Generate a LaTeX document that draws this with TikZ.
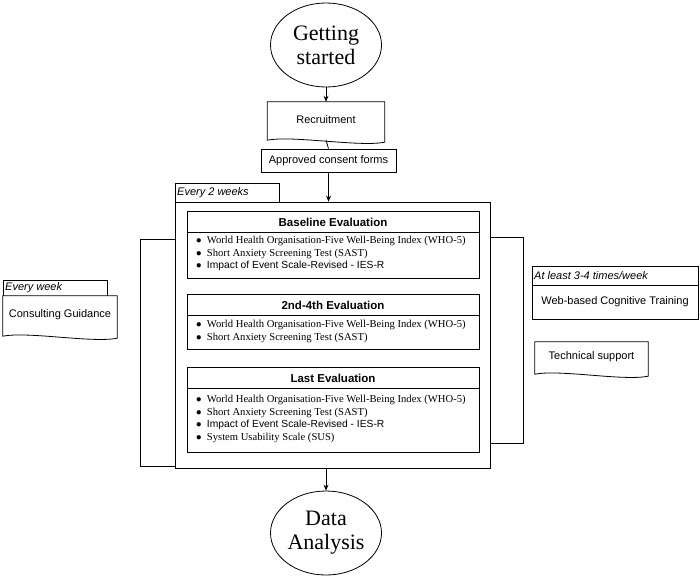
\documentclass[tikz,border=0pt]{standalone}
\usepackage{fontspec}
\setmainfont{Liberation Serif}
\newfontfamily\sans{Liberation Sans}
\usetikzlibrary{shapes.geometric,arrows.meta}
\begin{document}
\begin{tikzpicture}[x=1pt,y=-1pt,
  ell/.style={ellipse,draw,thick,minimum width=111pt,minimum height=84pt,align=center,font=\fontsize{22}{24}\selectfont,inner sep=0pt},
  box/.style={draw,thick,font=\sans\fontsize{11}{13}\selectfont},
  plain/.style={font=\sans\fontsize{11}{13}\selectfont,inner sep=0pt},
  hdr/.style={font=\sans\bfseries\fontsize{11.5}{13}\selectfont},
  tab/.style={font=\sans\itshape\fontsize{11}{13}\selectfont,anchor=west,inner sep=2pt},
  lst/.style={font=\fontsize{10.6}{12.5}\selectfont,align=left,anchor=north west,inner sep=0pt},
  arr/.style={-{Stealth[length=6pt,width=5pt]},thick},
  ln/.style={thick}]
\useasboundingbox (0,0) rectangle (700,576);
\def\docpath#1{\draw[thick] (#1.north west) -- (#1.north east) -- ([yshift=-4pt]#1.south east)
  .. controls ([xshift=-25pt,yshift=-9pt]#1.south east) and ([xshift=25pt,yshift=3pt]#1.south west) .. ([yshift=-2pt]#1.south west) -- cycle;}

\node[ell] (gs) at (326,45) {Getting\\started};
\node[plain,minimum width=117pt,minimum height=36pt] (rec) at (326,120) {Recruitment};
\docpath{rec}
\node[box,minimum width=135pt,minimum height=23pt,inner sep=0pt] (app) at (328.5,160.5) {Approved consent forms};

\node[draw,thick,minimum width=315pt,minimum height=266pt,inner sep=0pt] (outer) at (332.5,335) {};
\draw[thick] (175,202) -- (175,183) -- (279,183) -- (279,202);
\node[tab] (t2) at (175,192.5) {Every 2 weeks};

\node[draw,thick,minimum width=292pt,minimum height=67pt,inner sep=0pt] (b1) at (333,244.5) {};
\draw[thick] (187,232) -- (479,232);
\node[hdr] (h1) at (333,222) {Baseline Evaluation};
\node[lst] (l1) at (196,236) {$\bullet$\enspace World Health Organisation-Five Well-Being Index (WHO-5)\\
$\bullet$\enspace Short Anxiety Screening Test (SAST)\\
$\bullet$\enspace {\sans\fontsize{10.3}{12.5}\selectfont Impact of Event Scale-Revised - IES-R}};

\node[draw,thick,minimum width=292pt,minimum height=55pt,inner sep=0pt] (b2) at (333,321.5) {};
\draw[thick] (187,315) -- (479,315);
\node[hdr] (h2) at (333,305) {2nd-4th Evaluation};
\node[lst] (l2) at (196,320) {$\bullet$\enspace World Health Organisation-Five Well-Being Index (WHO-5)\\
$\bullet$\enspace Short Anxiety Screening Test (SAST)};

\node[draw,thick,minimum width=292pt,minimum height=85pt,inner sep=0pt] (b3) at (333,409.5) {};
\draw[thick] (187,388) -- (479,388);
\node[hdr] (h3) at (333,378) {Last Evaluation};
\node[lst] (l3) at (196,395) {$\bullet$\enspace World Health Organisation-Five Well-Being Index (WHO-5)\\
$\bullet$\enspace Short Anxiety Screening Test (SAST)\\
$\bullet$\enspace {\sans\fontsize{10.3}{12.5}\selectfont Impact of Event Scale-Revised - IES-R}\\
$\bullet$\enspace System Usability Scale (SUS)};

\draw[thick] (3,296) -- (3,280) -- (107,280) -- (107,296);
\node[tab] (tw) at (3,288) {Every week};
\node[plain,minimum width=114pt,minimum height=38pt] (cg) at (60,315) {Consulting Guidance};
\docpath{cg}
\coordinate (lb1) at (175,239); \coordinate (lb2) at (175,466);
\draw[ln] (lb1) -- (140,239) -- (140,466) -- (lb2);

\draw[thick] (532,266) rectangle (698,285);
\node[tab] (tr) at (532,275.5) {At least 3-4 times/week};
\node[box,minimum width=166pt,minimum height=34pt,inner sep=0pt] (wb) at (615,302) {Web-based Cognitive Training};
\node[plain,minimum width=113pt,minimum height=30pt] (ts) at (591.5,357) {Technical support};
\docpath{ts}
\coordinate (rb1) at (490,237); \coordinate (rb2) at (490,443);
\draw[ln] (rb1) -- (523,237) -- (523,443) -- (rb2);

\node[ell] (da) at (326,533) {Data\\Analysis};

\draw[arr] (gs.south) -- (rec.north);
\draw[ln] ([yshift=-2pt]rec.south) -- (app.north);
\draw[arr] (app.south) -- (outer.north -| app.south);
\draw[arr] (outer.south -| da.north) -- (da.north);
\end{tikzpicture}
\end{document}
